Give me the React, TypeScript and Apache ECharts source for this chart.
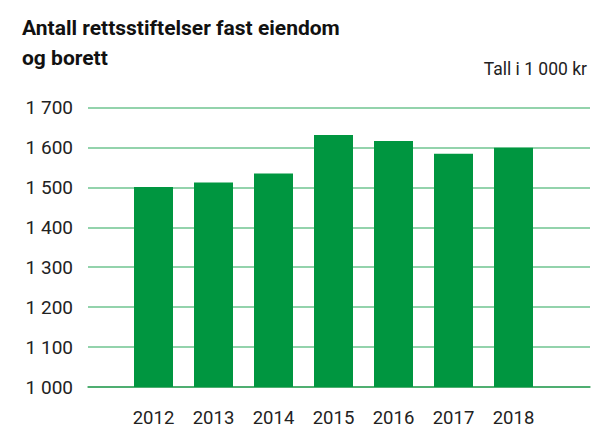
import React, { useEffect, useRef } from "react";
import * as echarts from "echarts";

const years = ["2012", "2013", "2014", "2015", "2016", "2017", "2018"];
const values = [1501, 1512, 1535, 1631, 1616, 1584, 1599];
const yMin = 1000;
const yMax = 1700;
const yStep = 100;
const title = "Antall rettsstiftelser fast eiendom\nog borett";
const unitNote = "Tall i 1 000 kr";

const fmt = (v: number) => {
  const s = String(Math.round(v));
  return s.replace(/\B(?=(\d{3})+(?!\d))/g, " ");
};

export default function App() {
  const ref = useRef<HTMLDivElement>(null);
  useEffect(() => {
    if (!ref.current) return;
    const chart = echarts.init(ref.current, undefined, { renderer: "svg" });
    const font = "Roboto, 'Noto Sans', sans-serif";
    chart.setOption({
      animation: false,
      backgroundColor: "#ffffff",
      title: [
        {
          text: title,
          left: 22,
          top: 13,
          padding: 0,
          textStyle: {
            fontFamily: font,
            fontWeight: "bold",
            fontSize: 21,
            lineHeight: 30,
            color: "#111111",
          },
        },
        {
          text: unitNote,
          right: 4,
          top: 60,
          padding: 0,
          textStyle: {
            fontFamily: font,
            fontWeight: "normal",
            fontSize: 17.5,
            color: "#222222",
          },
        },
      ],
      grid: [
        { left: 88, right: 1, top: 107.5, bottom: 41 },
        { left: 123.5, width: 420, top: 107.5, bottom: 41 },
      ],
      xAxis: [
        {
          gridIndex: 0,
          type: "category",
          data: years,
          axisLine: { show: true, lineStyle: { color: "#3aa35e", width: 1.5 } },
          axisTick: { show: false },
          axisLabel: { show: false },
          splitLine: { show: false },
        },
        {
          gridIndex: 1,
          type: "category",
          data: years,
          axisLine: { show: false },
          axisTick: { show: false },
          axisLabel: {
            margin: 21,
            fontFamily: font,
            fontSize: 18.5,
            color: "#222222",
          },
        },
      ],
      yAxis: [
        {
          gridIndex: 0,
          type: "value",
          min: yMin,
          max: yMax,
          interval: yStep,
          axisLine: { show: false },
          axisTick: { show: false },
          splitLine: { show: true, lineStyle: { color: "#93d3ac", width: 2 } },
          axisLabel: {
            margin: 15,
            fontFamily: font,
            fontSize: 19,
            color: "#222222",
            formatter: (v: number) => fmt(v),
          },
        },
        {
          gridIndex: 1,
          type: "value",
          min: yMin,
          max: yMax,
          interval: yStep,
          axisLine: { show: false },
          axisTick: { show: false },
          splitLine: { show: false },
          axisLabel: { show: false },
        },
      ],
      series: [
        {
          type: "bar",
          xAxisIndex: 1,
          yAxisIndex: 1,
          data: values,
          barWidth: 39,
          itemStyle: { color: "#009640" },
          z: 3,
        },
      ],
    });
    return () => chart.dispose();
  }, []);
  return (
    <div
      ref={ref}
      style={{ position: "fixed", left: 0, top: 0, width: 591, height: 428 }}
    />
  );
}
